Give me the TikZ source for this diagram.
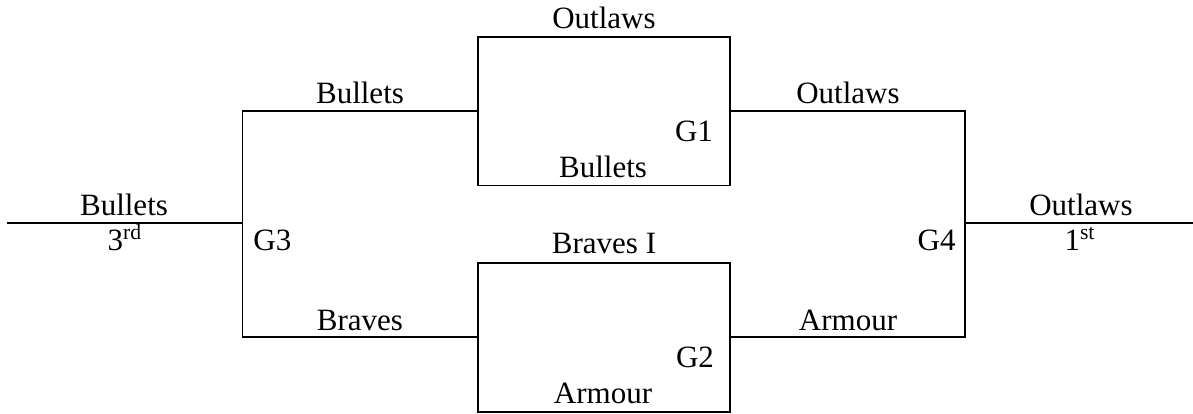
\documentclass[tikz,border=0pt]{standalone}
\usepackage{fontspec}
\setmainfont{Liberation Serif}
\begin{document}
\begin{tikzpicture}[x=0.5pt,y=-0.5pt,
  line/.style={line width=0.9pt,black},
  game/.style={draw,line width=0.9pt,rectangle,minimum width=126.2pt,minimum height=74.4pt,inner sep=0pt,outer sep=0pt},
  lbl/.style={anchor=base,inner sep=0pt,font=\fontsize{15.5}{18}\selectfont}]
\useasboundingbox (0,0) rectangle (1193,413);
% games
\node[game] (g1) at (604,111) {};
\node[game] (g2) at (604,337.3) {};
\coordinate (g3) at (242.5,223.3);
\coordinate (g4) at (965,223.3);
\coordinate (third) at (7,223.3);
\coordinate (first) at (1193,223.3);
% connectors
\draw[line] (g1.west) -| (g3) |- (g2.west);
\draw[line] (g1.east) -| (g4) |- (g2.east);
\draw[line] (g3) -- (third);
\draw[line] (g4) -- (first);
% labels
\node[lbl] (tOutlaws) at (604,28) {Outlaws};
\node[lbl] (tG1) at (694,141) {G1};
\node[lbl] (tBul1) at (603,177) {Bullets};
\node[lbl] (tBraI) at (604,253) {Braves I};
\node[lbl] (tG2) at (695,367) {G2};
\node[lbl] (tArm2) at (603,403) {Armour};
\node[lbl] (tBulTop) at (360,103) {Bullets};
\node[lbl] (tBrav) at (360,330) {Braves};
\node[lbl] (tOutR) at (848,103) {Outlaws};
\node[lbl] (tArmR) at (848,330) {Armour};
\node[lbl] (tBulL) at (124,215) {Bullets};
\node[lbl] (t3rd) at (125,250) {3\textsuperscript{rd}};
\node[lbl,anchor=base west] (tG3) at (253,250) {G3};
\node[lbl] (tOutFar) at (1081,215) {Outlaws};
\node[lbl] (t1st) at (1080,250) {1\textsuperscript{st}};
\node[lbl,anchor=base east] (tG4) at (956,250) {G4};
\end{tikzpicture}
\end{document}
